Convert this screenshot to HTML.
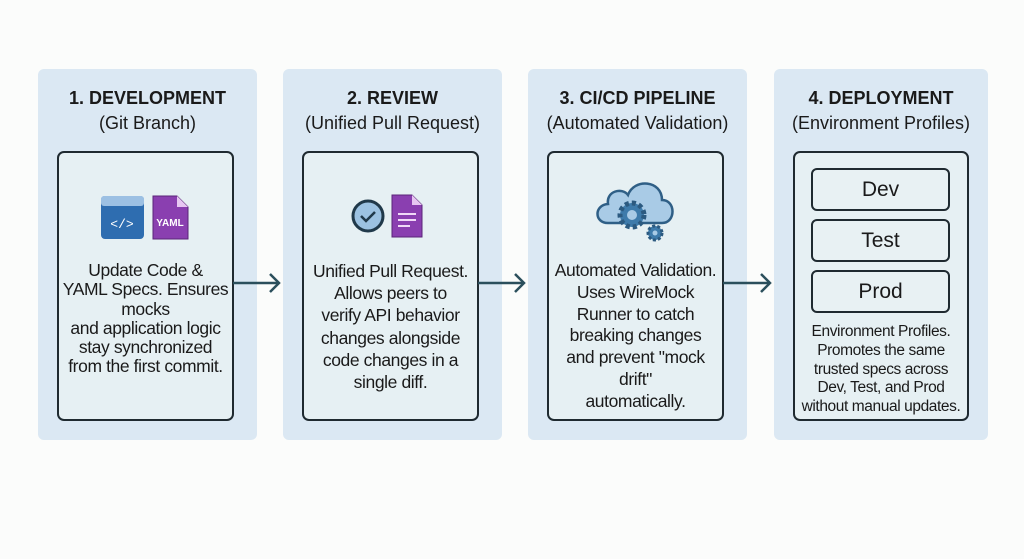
<!DOCTYPE html>
<html><head><style>
body{margin:0;width:1024px;height:559px;background:#fbfcfb;font-family:"Liberation Sans",sans-serif;position:relative;overflow:hidden;color:#1a1a1a}
.p{position:absolute;top:69px;height:371px;background:#dbe8f3;border-radius:6px}
.h{position:absolute;top:86px;text-align:center;font-size:18px;line-height:25px;white-space:nowrap}
.i{position:absolute;top:151px;height:270px;border:2px solid #1f2a30;border-radius:7px;background:#e6f0f3;box-sizing:border-box}
.t{position:absolute;text-align:center;font-size:17.5px;line-height:19.3px;white-space:nowrap;letter-spacing:-0.4px}
.e{position:absolute;left:811px;width:139px;height:43px;border:2px solid #1f2a30;border-radius:6px;box-sizing:border-box;text-align:center;font-size:21px;line-height:39px;background:#e8f1f3}
svg{position:absolute}
</style></head><body>
<div class="p" style="left:38px;width:219px"></div>
<div class="p" style="left:283px;width:219px"></div>
<div class="p" style="left:528px;width:219px"></div>
<div class="p" style="left:774px;width:214px"></div>

<div class="h" style="left:38px;width:219px"><b>1. DEVELOPMENT</b><br>(Git Branch)</div>
<div class="h" style="left:283px;width:219px"><b>2. REVIEW</b><br>(Unified Pull Request)</div>
<div class="h" style="left:528px;width:219px"><b>3. CI/CD PIPELINE</b><br>(Automated Validation)</div>
<div class="h" style="left:774px;width:214px"><b>4. DEPLOYMENT</b><br>(Environment Profiles)</div>

<div class="i" style="left:57px;width:177px"></div>
<div class="i" style="left:302px;width:177px"></div>
<div class="i" style="left:547px;width:177px"></div>
<div class="i" style="left:793px;width:176px"></div>

<svg style="left:100px;top:195px" width="95" height="50">
<rect x="1" y="1" width="43" height="43" rx="4" fill="#2e6db0"/>
<rect x="1" y="1" width="43" height="10" rx="3" fill="#9cc0e3"/>
<text x="22" y="33" font-size="13" fill="#fff" text-anchor="middle" font-family="Liberation Mono">&lt;/&gt;</text>
<path d="M53 1 H77 L88 12 V44 H53 Z" fill="#8a3fb0" stroke="#5a2478"/>
<path d="M77 1 V12 H88 Z" fill="#e7c7f2"/>
<text x="70" y="31" font-size="10" fill="#fff" text-anchor="middle" font-weight="bold">YAML</text>
</svg>
<svg style="left:350px;top:192px" width="85" height="50">
<circle cx="18" cy="24" r="15" fill="#9cc2e2" stroke="#20394a" stroke-width="3"/>
<path d="M11 24 l5 5 l9 -9" fill="none" stroke="#20394a" stroke-width="2.5"/>
<path d="M42 3 H62 L72 13 V45 H42 Z" fill="#8a3fb0" stroke="#5a2478"/>
<path d="M62 3 V13 H72 Z" fill="#e7c7f2"/>
<g stroke="#f0d9f7" stroke-width="2"><line x1="48" y1="22" x2="66" y2="22"/><line x1="48" y1="28" x2="66" y2="28"/><line x1="48" y1="34" x2="60" y2="34"/></g>
</svg>
<svg style="left:592px;top:175px" width="90" height="70">
<path d="M16 48 C2 48 2 30 16 29 C14 16 30 12 36 20 C42 3 70 5 70 25 C84 25 84 48 70 48 Z" fill="#a9cbe6" stroke="#2f5f86" stroke-width="2.5"/>
<circle cx="40" cy="40" r="12" fill="#3e7bab" stroke="#2c5a80" stroke-width="5" stroke-dasharray="4 3"/>
<circle cx="40" cy="40" r="5" fill="#a9cbe6"/>
<circle cx="63" cy="58" r="7" fill="#3e7bab" stroke="#2c5a80" stroke-width="3" stroke-dasharray="3 2"/>
<circle cx="63" cy="58" r="2.5" fill="#a9cbe6"/>
</svg>

<div class="t" style="left:57px;width:177px;top:261px">Update Code &amp;<br>YAML Specs. Ensures<br>mocks<br>and application logic<br>stay synchronized<br>from the first commit.</div>
<div class="t" style="left:302px;width:177px;top:260px;line-height:22.2px">Unified Pull Request.<br>Allows peers to<br>verify API behavior<br>changes alongside<br>code changes in a<br>single diff.</div>
<div class="t" style="left:547px;width:177px;top:260px;line-height:21.8px">Automated Validation.<br>Uses WireMock<br>Runner to catch<br>breaking changes<br>and prevent "mock<br>drift"<br>automatically.</div>

<div class="e" style="top:168px">Dev</div>
<div class="e" style="top:219px">Test</div>
<div class="e" style="top:270px">Prod</div>
<div class="t" style="left:793px;width:176px;top:323px;font-size:15.5px;line-height:18.8px">Environment Profiles.<br>Promotes the same<br>trusted specs across<br>Dev, Test, and Prod<br>without manual updates.</div>

<svg style="left:0;top:0" width="1024" height="559">
<g stroke="#2b4f5c" stroke-width="2.5" fill="none">
<line x1="233" y1="283" x2="279" y2="283"/><path d="M270 274 L279 283 L270 292"/>
<line x1="478" y1="283" x2="524" y2="283"/><path d="M515 274 L524 283 L515 292"/>
<line x1="723" y1="283" x2="770" y2="283"/><path d="M761 274 L770 283 L761 292"/>
</g></svg>
</body></html>
